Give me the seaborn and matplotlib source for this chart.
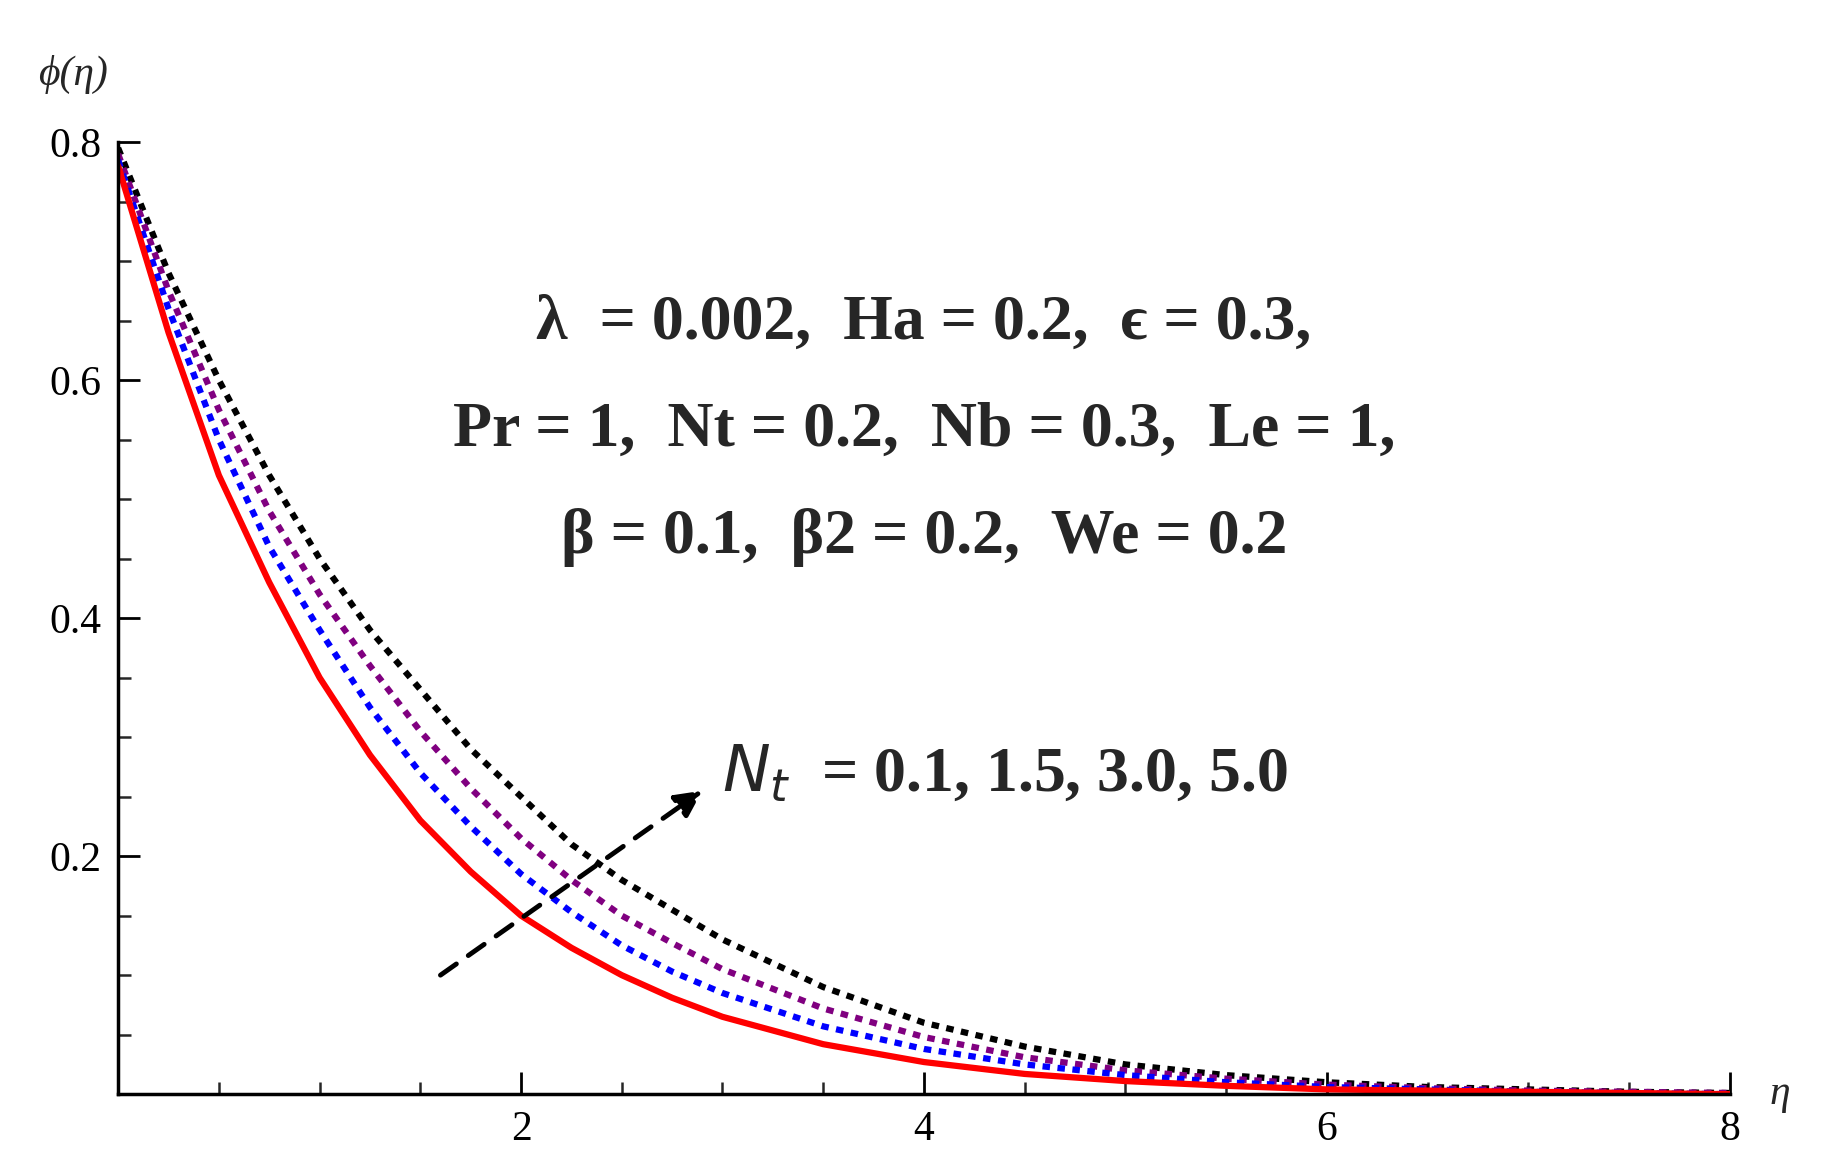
import numpy as np
import pandas as pd
import seaborn as sns
import matplotlib.pyplot as plt
from matplotlib.ticker import MultipleLocator

eta = [0,0.25,0.5,0.75,1,1.25,1.5,1.75,2,2.25,2.5,2.75,3,3.5,4,4.5,5,5.5,6,6.5,7,7.5,8]
phi_01 = [0.78,0.64,0.52,0.43,0.35,0.285,0.23,0.187,0.15,0.123,0.10,0.081,0.065,0.042,0.027,0.017,0.011,0.007,0.004,0.003,0.002,0.001,0.0]
phi_15 = [0.785,0.66,0.55,0.46,0.39,0.325,0.27,0.225,0.185,0.153,0.125,0.103,0.085,0.057,0.038,0.025,0.016,0.010,0.006,0.004,0.002,0.001,0.0]
phi_30 = [0.79,0.675,0.575,0.49,0.42,0.36,0.305,0.257,0.215,0.18,0.15,0.127,0.105,0.072,0.048,0.031,0.02,0.013,0.008,0.005,0.003,0.002,0.001]
phi_50 = [0.795,0.69,0.60,0.52,0.45,0.39,0.34,0.29,0.25,0.21,0.18,0.155,0.13,0.09,0.06,0.04,0.025,0.016,0.01,0.006,0.004,0.002,0.001]

sns.set_style("white")
plt.rcParams['font.family'] = ['Liberation Serif', 'DejaVu Serif']

fig = plt.figure(figsize=(18.46, 11.74), dpi=100)
ax = fig.add_axes([0.064, 0.068, 0.873, 0.811])

styles = [(phi_50, 'black', (0, (1.2, 1.2))),
          (phi_30, 'purple', (0, (1.2, 1.2))),
          (phi_15, 'blue', (0, (1.2, 1.2))),
          (phi_01, 'red', '-')]
for vals, c, ls in styles:
    sns.lineplot(x=eta, y=vals, ax=ax, color=c, lw=4.5, linestyle=ls)

ax.set_xlim(0, 8)
ax.set_ylim(0, 0.8)
ax.set_xticks([2, 4, 6, 8])
ax.set_yticks([0.2, 0.4, 0.6, 0.8])
ax.set_yticklabels(['0.2', '0.4', '0.6', '0.8'])
ax.xaxis.set_minor_locator(MultipleLocator(0.5))
ax.yaxis.set_minor_locator(MultipleLocator(0.05))
for s in ['top', 'right']:
    ax.spines[s].set_visible(False)
for s in ['left', 'bottom']:
    ax.spines[s].set_linewidth(2.5)
    ax.spines[s].set_color('black')
ax.tick_params(which='both', bottom=True, left=True)
ax.tick_params(which='major', direction='in', length=16, width=2, labelsize=30, colors='black', pad=12)
ax.tick_params(which='minor', direction='in', length=9, width=1.8)

ax.text(-0.05, 1.06, 'ϕ(η)', transform=ax.transAxes, fontsize=30, ha='left', style='italic')
ax.text(1.025, 0.0, 'η', transform=ax.transAxes, fontsize=30, va='center', style='italic')

fw = dict(fontsize=46, fontweight='bold', ha='center')
ax.text(4.0, 0.635, 'λ  = 0.002,  Ha = 0.2,  ϵ = 0.3,', **fw)
ax.text(4.0, 0.545, 'Pr = 1,  Nt = 0.2,  Nb = 0.3,  Le = 1,', **fw)
ax.text(4.0, 0.455, 'β = 0.1,  β2 = 0.2,  We = 0.2', **fw)
ax.text(3.0, 0.255, '$\\it{N_t}$  = 0.1, 1.5, 3.0, 5.0', fontsize=46, fontweight='bold', ha='left')

ax.annotate('', xy=(2.9, 0.255), xytext=(1.6, 0.1),
            arrowprops=dict(arrowstyle='-|>,head_length=1.6,head_width=0.8', color='black',
                            lw=3.5, linestyle=(0, (4, 3)), shrinkA=0, shrinkB=0))

fig.savefig('out.png', dpi=100)
